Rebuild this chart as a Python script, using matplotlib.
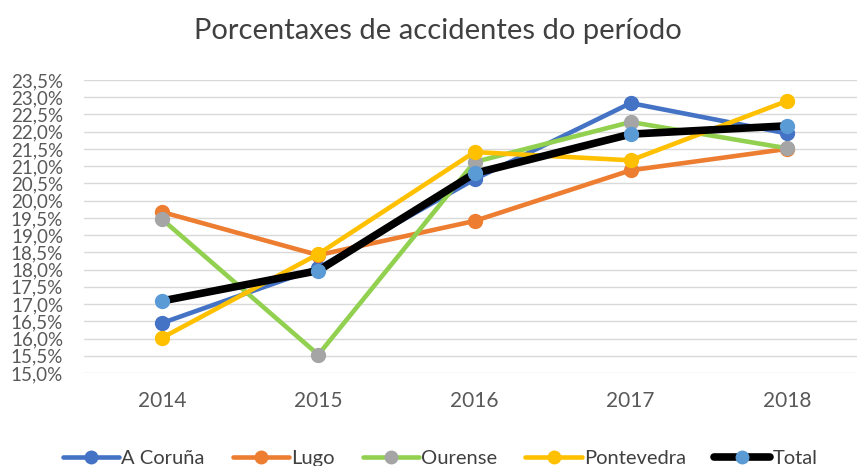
import matplotlib
matplotlib.use("Agg")
import matplotlib.pyplot as plt
from matplotlib.ticker import FuncFormatter, MultipleLocator
from matplotlib.lines import Line2D

plt.rcParams['font.family'] = ['Lato', 'DejaVu Sans']

years = ["2014", "2015", "2016", "2017", "2018"]
coruna = [16.45, 18.05, 20.62, 22.83, 21.95]
lugo = [19.67, 18.42, 19.41, 20.88, 21.50]
ourense = [19.46, 15.53, 21.12, 22.28, 21.52]
pontevedra = [16.02, 18.45, 21.41, 21.17, 22.89]
total = [17.09, 17.97, 20.79, 21.93, 22.17]

title = "Porcentaxes de accidentes do período"
names = ["A Coruña", "Lugo", "Ourense", "Pontevedra", "Total"]
series = [coruna, lugo, ourense, pontevedra, total]
line_colors = ["#4472C4", "#ED7D31", "#92D050", "#FFC000", "#000000"]
marker_colors = ["#4472C4", "#ED7D31", "#A5A5A5", "#FFC000", "#5B9BD5"]
line_widths = [3.3, 3.3, 3.3, 3.3, 5.5]

fig = plt.figure(figsize=(8.57, 4.66), dpi=100)
W, H = 857, 466
x0, x1 = 84, 865
ytop, ybot = 80, 373
ax = fig.add_axes([x0 / W, (H - ybot) / H, (x1 - x0) / W, (ybot - ytop) / H])

xs = list(range(len(years)))
handles = []
for vals, name, lc, mc, lw in zip(series, names, line_colors, marker_colors, line_widths):
    ax.plot(xs, vals, color=lc, lw=lw, marker='o', markersize=10,
            markerfacecolor=mc, markeredgecolor=mc, solid_capstyle='round',
            solid_joinstyle='round', zorder=3)
    handles.append(Line2D([0], [0], color=lc, lw=lw, marker='o', markersize=9,
                          markerfacecolor=mc, markeredgecolor=mc,
                          solid_capstyle='round'))

ax.set_xlim(-0.5, len(years) - 0.5)
ax.set_ylim(15.0, 23.5)
ax.yaxis.set_major_locator(MultipleLocator(0.5))
ax.yaxis.set_major_formatter(FuncFormatter(lambda v, p: f"{v:.1f}%".replace('.', ',')))
ax.set_xticks(xs)
ax.set_xticklabels(years)
ax.grid(axis='y', color='#D9D9D9', lw=1.0, zorder=0)
ax.set_axisbelow(True)
for s in ax.spines.values():
    s.set_visible(False)
ax.tick_params(axis='both', length=0, colors='#595959')
ax.tick_params(axis='y', pad=15, labelsize=13.5)
ax.tick_params(axis='x', pad=13, labelsize=15)

fig.text(438 / W, 1 - 31 / H, title, ha='center', va='center',
         fontsize=21, color='#404040')

fig.legend(handles, names, loc='center', bbox_to_anchor=(440 / W, 8 / H),
           ncol=5, frameon=False, fontsize=14.5, handlelength=2.8,
           handletextpad=0.1, columnspacing=1.4, labelcolor='#404040')

fig.savefig("out.png", dpi=100)
